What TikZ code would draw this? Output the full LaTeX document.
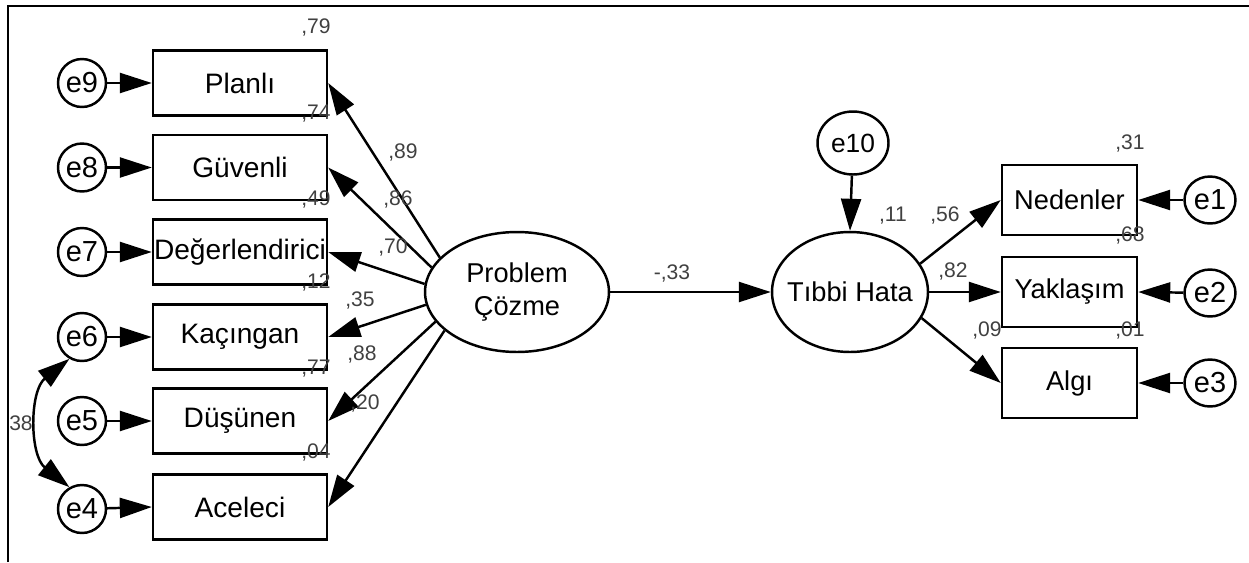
\documentclass[tikz,border=0pt]{standalone}
\usepackage{fontspec}
\setmainfont{Liberation Sans}
\usetikzlibrary{arrows.meta,shapes.geometric}
\begin{document}
\begin{tikzpicture}[x=0.02cm,y=-0.02cm,
  every node/.style={inner sep=0pt},
  obs/.style={draw,line width=1.4pt,rectangle,minimum width=3.48cm,minimum height=1.3cm,font=\fontsize{16}{18}\selectfont},
  obsr/.style={draw,line width=1.4pt,rectangle,minimum width=2.7cm,minimum height=1.4cm,font=\fontsize{15.5}{18}\selectfont},
  err/.style={draw,line width=1.4pt,circle,minimum size=0.96cm,font=\fontsize{16.5}{18}\selectfont},
  errr/.style={draw,line width=1.4pt,ellipse,minimum width=1.02cm,minimum height=0.94cm,inner xsep=-0.05cm,font=\fontsize{16.5}{18}\selectfont},
  lat/.style={draw,line width=1.4pt,ellipse,font=\fontsize{15.5}{18}\selectfont,align=center},
  coef/.style={font=\fontsize{12}{14}\selectfont,text=black!75},
  path/.style={line width=1.4pt,-{Triangle[length=0.64cm,width=0.4cm]}},
  cov/.style={line width=1.4pt,{Triangle[length=0.64cm,width=0.4cm]}-{Triangle[length=0.64cm,width=0.4cm]}}
]
\useasboundingbox (0,0) rectangle (1249,562);
% frame
\coordinate (fbl) at (8,562);
\coordinate (ftl) at (8,6);
\coordinate (ftr) at (1249,6);
\draw[line width=1.3pt] (fbl) -- (ftl) -- (ftr);

% left observed
\node[obs] (b9) at (240,83) {Planlı};
\node[obs] (b8) at (240,167.5) {Güvenli};
\node[obs] (b7) at (240,252) {Değerlendirici};
\node[obs] (b6) at (240,337) {Kaçıngan};
\node[obs] (b5) at (240,421) {Düşünen};
\node[obs] (b4) at (240,507) {Aceleci};
% left errors
\node[err] (e9) at (82,83) {e9};
\node[err] (e8) at (82,167.5) {e8};
\node[err] (e7) at (82,252) {e7};
\node[err] (e6) at (82,337) {e6};
\node[err] (e5) at (82,421) {e5};
\node[err] (e4) at (82,509) {e4};
% latents
\node[lat,minimum width=3.68cm,minimum height=2.4cm] (P) at (517,292) {Problem\\[1pt]Çözme};
\node[lat,minimum width=3.12cm,minimum height=2.4cm,inner xsep=-0.16cm] (T) at (850,292) {Tıbbi Hata};
\node[draw,line width=1.4pt,ellipse,minimum width=1.42cm,minimum height=1.26cm,inner xsep=-0.1cm,font=\fontsize{15}{18}\selectfont] (e10) at (853,143) {e10};
% right observed
\node[obsr] (n1) at (1069.5,200) {Nedenler};
\node[obsr] (n2) at (1069.5,292) {Yaklaşım};
\node[obsr] (n3) at (1069.5,383) {Algı};
\node[errr] (e1) at (1210,200) {e1};
\node[errr] (e2) at (1210,293) {e2};
\node[errr] (e3) at (1210,383) {e3};

% error arrows
\foreach \i in {4,...,9} {\draw[path] (e\i) -- (b\i.west);}
\draw[path] (e1) -- (n1.east);
\draw[path] (e2) -- (n2.east);
\draw[path] (e3) -- (n3.east);
\draw[path] (e10) -- (T.north);

% loadings
\draw[path] (P.156) -- (b9.east);
\draw[path] (P.164.6) -- (b8.east);
\draw[path] (P.175.7) -- (b7.east);
\draw[path] (P.188) -- (b6.east);
\draw[path] (P.200) -- (b5.east);
\draw[path] (P.208) -- (b4.east);
\draw[path] (P.east) -- (T.west);
\draw[path] (T.22) -- (n1.west);
\draw[path] (T.east) -- (n2.west);
\draw[path] (T.-20) -- (n3.west);

% covariance
\draw[cov] (e6.240) .. controls +(-40,32) and +(-40,-32) .. (e4.120);

% labels
\node[coef] (r9) at (316,27) {,79};
\node[coef] (r8) at (316,114) {,74};
\node[coef] (r7) at (316,199) {,49};
\node[coef] (r6) at (316,282) {,12};
\node[coef] (r5) at (316,369) {,77};
\node[coef] (r4) at (316,452) {,04};
\node[coef] (l9) at (403,152) {,89};
\node[coef] (l8) at (398,199) {,86};
\node[coef] (l7) at (393,247) {,70};
\node[coef] (l6) at (360,300) {,35};
\node[coef] (l5) at (362,354) {,88};
\node[coef] (l4) at (365,403) {,20};
\node[coef] (c46) at (21,423) {38};
\node[coef] (pt) at (672,273) {-,33};
\node[coef] (rt) at (893,216) {,11};
\node[coef] (l1) at (945,215) {,56};
\node[coef] (l2) at (953,271) {,82};
\node[coef] (l3) at (987,330) {,09};
\node[coef] (r1) at (1130,143) {,31};
\node[coef] (r2) at (1130,235) {,68};
\node[coef] (r3) at (1130,330) {,01};
\end{tikzpicture}
\end{document}
